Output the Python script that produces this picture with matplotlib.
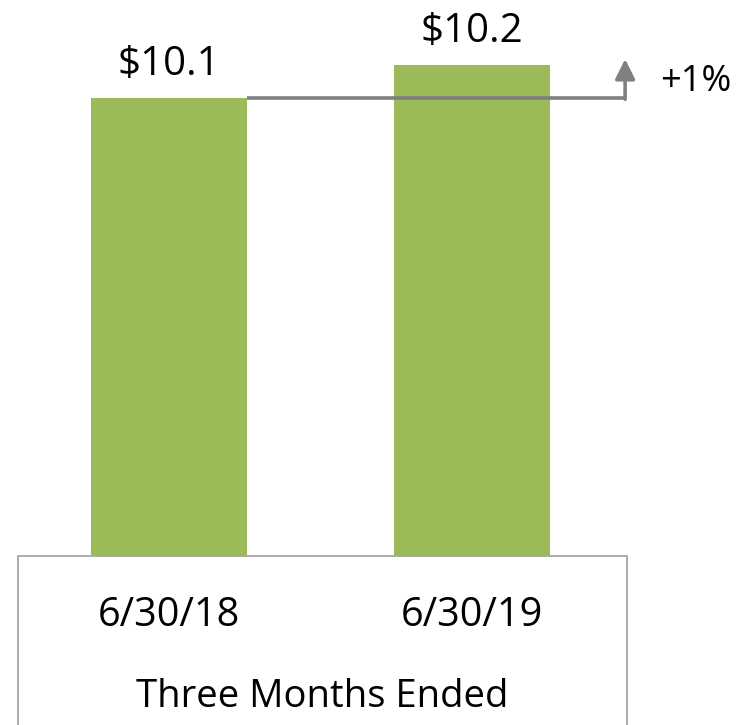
import matplotlib
matplotlib.use("Agg")
import matplotlib.pyplot as plt
from matplotlib.patches import Rectangle
from matplotlib.transforms import blended_transform_factory

plt.rcParams['font.family'] = ['Open Sans', 'DejaVu Sans']

# data
periods = ['6/30/18', '6/30/19']
values = [10.1, 10.2]
value_labels = ['$10.1', '$10.2']
change_label = '+1%'
group_label = 'Three Months Ended'

green = '#9BBB59'
gray = '#808080'

fig = plt.figure(figsize=(7.46, 7.25), dpi=100)
ax = fig.add_axes([0, 0.2331, 1, 0.7669])

x = range(len(values))
width = 0.515
ax.bar(x, values, width=width, color=green, zorder=2)

ax.set_xlim(-0.558, 1.904)
ax.set_ylim(8.712, 10.397)
ax.axis('off')

# value labels above bars
for i, (v, lab) in enumerate(zip(values, value_labels)):
    ax.annotate(lab, xy=(i, v), xytext=(0, 24), textcoords='offset points',
                ha='center', va='center', fontsize=29, color='black')

# growth connector: from top of first bar across, then up with an arrow
x_start = 0 + width / 2
x_turn = 1 + 0.505
ax.plot([x_start, x_turn], [values[0], values[0]], color=gray, lw=2.6,
        solid_capstyle='butt', zorder=3)
ax.annotate('', xy=(x_turn, values[1] + 0.018), xytext=(x_turn, values[0] - 0.004),
            arrowprops=dict(arrowstyle='-|>,head_length=0.6,head_width=0.3',
                            color=gray, lw=2.6, mutation_scale=20,
                            shrinkA=0, shrinkB=0), zorder=3)
ax.text(x_turn + 0.115, (values[0] + values[1]) / 2, change_label,
        ha='left', va='center', fontsize=26, color='black')

# category box below the bars
box = Rectangle((0.0241, -0.4), 0.8164, 0.4, transform=ax.transAxes,
                fill=False, edgecolor='#A6A6A6', lw=1.3, clip_on=False)
ax.add_patch(box)

trans = blended_transform_factory(ax.transData, ax.transAxes)
for i, p in enumerate(periods):
    ax.text(i, -0.108, p, transform=trans, ha='center', va='center',
            fontsize=28.5, color='black')
ax.text(0.4323, -0.254, group_label, transform=ax.transAxes, ha='center',
        va='center', fontsize=27.5, color='black')

fig.savefig('out.png', dpi=100)
